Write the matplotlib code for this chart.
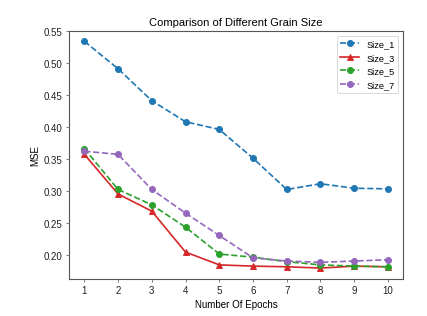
import matplotlib
matplotlib.use('Agg')
import matplotlib.pyplot as plt

plt.rcParams['font.family'] = ['Liberation Sans', 'DejaVu Sans']
plt.rcParams['axes.edgecolor'] = '#555555'
plt.rcParams['xtick.color'] = '#555555'
plt.rcParams['ytick.color'] = '#555555'
plt.rcParams['xtick.labelcolor'] = '#222222'
plt.rcParams['ytick.labelcolor'] = '#222222'
plt.rcParams['axes.linewidth'] = 1.2

# data
epochs = [1, 2, 3, 4, 5, 6, 7, 8, 9, 10]
size_1 = [0.534, 0.491, 0.441, 0.408, 0.396, 0.351, 0.302, 0.311, 0.304, 0.303]
size_3 = [0.357, 0.295, 0.268, 0.204, 0.184, 0.182, 0.181, 0.179, 0.182, 0.181]
size_5 = [0.366, 0.302, 0.278, 0.243, 0.201, 0.196, 0.189, 0.184, 0.182, 0.181]
size_7 = [0.362, 0.357, 0.302, 0.265, 0.230, 0.195, 0.190, 0.188, 0.190, 0.192]

fig = plt.figure(figsize=(6.4, 4.75), dpi=427 / 6.4)
ax = fig.add_axes([0.162, 0.117, 0.782, 0.782])

ax.plot(epochs, size_1, 'o--', color='tab:blue', lw=1.8, ms=6.5, label='Size_1')
ax.plot(epochs, size_3, '^-', color='tab:red', lw=1.8, ms=6.5, label='Size_3')
ax.plot(epochs, size_5, 'o--', color='tab:green', lw=1.8, ms=6.5, label='Size_5')
ax.plot(epochs, size_7, 'o--', color='tab:purple', lw=1.8, ms=6.5, label='Size_7')

ax.set_xticks(epochs)
ax.set_yticks([0.20, 0.25, 0.30, 0.35, 0.40, 0.45, 0.50, 0.55])
ax.set_xlim(0.55, 10.45)
ax.set_ylim(0.162, 0.55)
ax.tick_params(labelsize=10.5)
ax.set_xlabel('Number Of Epochs', fontsize=10.5)
ax.set_ylabel('MSE', fontsize=10.5)
ax.set_title('Comparison of Different Grain Size', fontsize=12)
ax.legend(loc='upper right', fontsize=10)

fig.savefig('out.png')
